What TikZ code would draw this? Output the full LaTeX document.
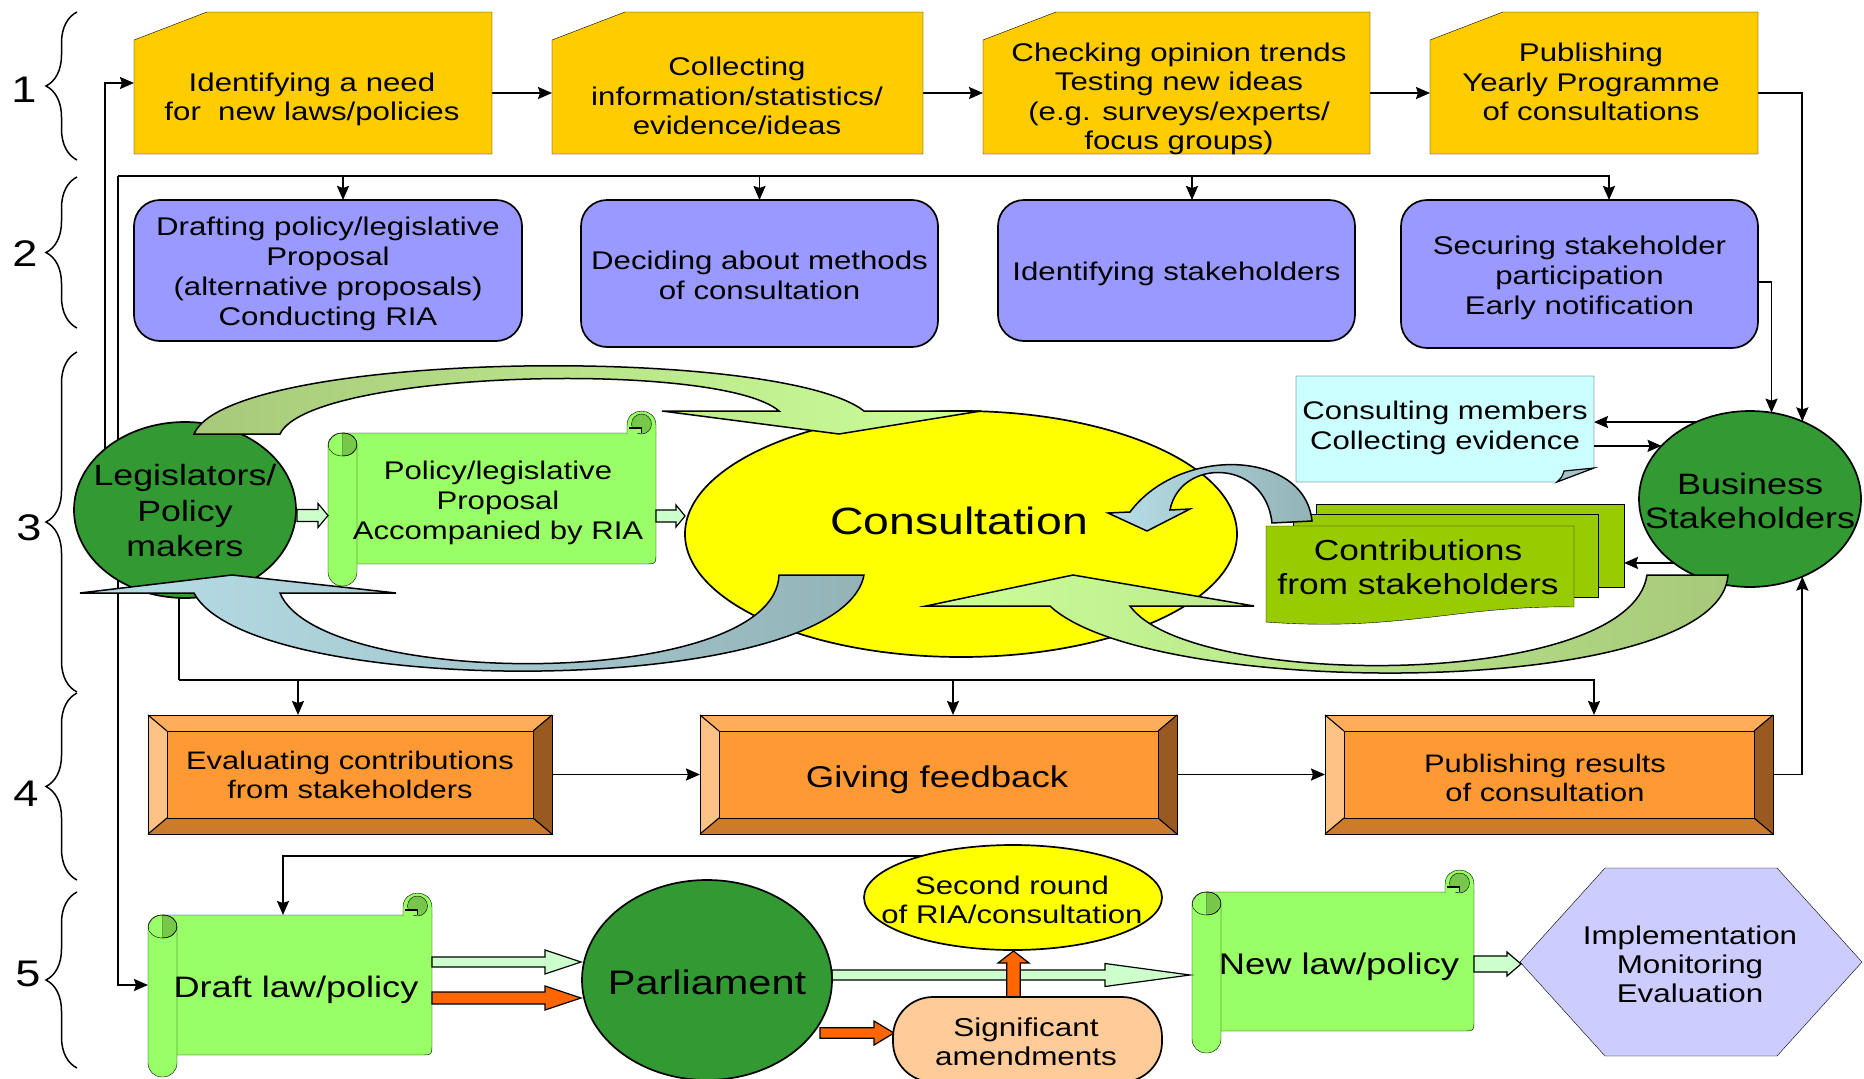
\documentclass[tikz,border=0pt]{standalone}
\usepackage{fontspec}
\setmainfont{Liberation Sans}[FakeStretch=1.22]
\usetikzlibrary{arrows.meta,calc,decorations.pathreplacing,shapes.geometric}

\pgfdeclarelayer{lines}
\pgfdeclarelayer{shapes}
\pgfdeclarelayer{front}
\pgfsetlayers{lines,shapes,main,front}

\definecolor{gold}{HTML}{FFCC00}
\definecolor{lilac}{HTML}{9999FF}
\definecolor{leaf}{HTML}{339933}
\definecolor{sunny}{HTML}{FFFF00}
\definecolor{scrollg}{HTML}{99FF66}
\definecolor{curlg}{HTML}{77C74A}
\definecolor{mint}{HTML}{CCFFCC}
\definecolor{oliveg}{HTML}{A6C97A}
\definecolor{paleg}{HTML}{CCFF99}
\definecolor{tealg}{HTML}{93B3B7}
\definecolor{paleblue}{HTML}{B7DEE8}
\definecolor{notec}{HTML}{CCFFFF}
\definecolor{foldc}{HTML}{A5C3C7}
\definecolor{lime}{HTML}{99CC00}
\definecolor{face}{HTML}{FF9933}
\definecolor{bevtop}{HTML}{FFAD5B}
\definecolor{bevleft}{HTML}{FFC285}
\definecolor{bevbot}{HTML}{CC7A2C}
\definecolor{bevright}{HTML}{995A22}
\definecolor{flame}{HTML}{FF6600}
\definecolor{peach}{HTML}{FFCC99}
\definecolor{hexc}{HTML}{CCCCFF}

\newcommand{\fsz}[2]{\fontsize{#1}{#2}\selectfont}

% yellow card with a clipped top-left corner: x1 y1 x2 y2
\newcommand{\cutcard}[4]{\filldraw[fill=gold] (#1,#2+28) -- (#1+73,#2) -- (#3,#2) -- (#3,#4) -- (#1,#4) -- cycle;}

% bevelled orange button: x1 y1 x2 y2
\newcommand{\bevelbox}[4]{%
  \fill[bevtop] (#1,#2) -- (#3,#2) -- (#3-19,#2+16) -- (#1+19,#2+16) -- cycle;
  \fill[bevbot] (#1,#4) -- (#3,#4) -- (#3-19,#4-16) -- (#1+19,#4-16) -- cycle;
  \fill[bevleft] (#1,#2) -- (#1+19,#2+16) -- (#1+19,#4-16) -- (#1,#4) -- cycle;
  \fill[bevright] (#3,#2) -- (#3-19,#2+16) -- (#3-19,#4-16) -- (#3,#4) -- cycle;
  \filldraw[fill=face] (#1+19,#2+16) rectangle (#3-19,#4-16);
  \draw[line width=1.1pt] (#1,#2) -- (#1+19,#2+16) (#3,#2) -- (#3-19,#2+16)
        (#1,#4) -- (#1+19,#4-16) (#3,#4) -- (#3-19,#4-16);
  \draw (#1,#2) rectangle (#3,#4);}

% horizontal scroll: body left, top, right, bottom
\newcommand{\scrollshape}[4]{%
  \filldraw[fill=scrollg] (#1+14,#2) -- (#3,#2) -- (#3,#4-12) .. controls (#3,#4) .. (#3-12,#4) -- (#1+14,#4) -- cycle;
  \filldraw[fill=scrollg] (#3-29,#2+1) -- (#3-29,#2-7.5) .. controls (#3-29,#2-26.8) and (#3,#2-26.8) .. (#3,#2-7.5) -- (#3,#2+1);
  \filldraw[fill=curlg] (#3-14.5,#2-9) circle[radius=10];
  \fill[scrollg] (#3-27,#2-5) rectangle (#3-14.5,#2);
  \draw[line width=1.2pt] (#3-27,#2-5) -- (#3-14.5,#2-5) -- (#3-14.5,#2);
  \filldraw[fill=scrollg,rounded corners=14pt] (#1,#2) rectangle (#1+29,#4+22);
  \filldraw[fill=curlg] (#1+14.5,#2) .. controls (#1+33.8,#2) and (#1+33.8,#2+23) .. (#1+14.5,#2+23) -- cycle;
  \draw (#1+14.5,#2+11.5) ellipse[x radius=14.5,y radius=11.5];}

% block arrows: from x1 to tip x2 at height yc (shaft half, head half, head length, colour)
\newcommand{\hblock}[7]{\filldraw[fill=#7,line width=1.2pt] (#1,#3-#4) -- (#2-#6,#3-#4) -- (#2-#6,#3-#5) -- (#2,#3) -- (#2-#6,#3+#5) -- (#2-#6,#3+#4) -- (#1,#3+#4) -- cycle;}
% upward block arrow: centre x, base y, tip y, shaft half, head half, head length, colour
\newcommand{\vblock}[7]{\filldraw[fill=#7,line width=1.2pt] (#1-#4,#2) -- (#1-#4,#3+#6) -- (#1-#5,#3+#6) -- (#1,#3) -- (#1+#5,#3+#6) -- (#1+#4,#3+#6) -- (#1+#4,#2) -- cycle;}

\begin{document}
\begin{tikzpicture}[x=1pt,y=-1pt,line width=1.7pt,
  ghost/.style={rectangle,draw=none,fill=none,inner sep=0pt,outer sep=0pt},
  txt/.style={align=center,inner sep=0pt,outer sep=0pt},
  conn/.style={line width=1.9pt,-{Stealth[length=14pt,width=12pt,inset=2pt]}},
  wire/.style={line width=1.9pt},
  lilacbox/.style={rectangle,draw,fill=lilac,rounded corners=26pt,inner sep=0pt,outer sep=0pt},
  disc/.style={ellipse,draw,fill=leaf,inner sep=0pt,outer sep=0pt},
  numeral/.style={inner sep=0pt,font=\fsz{37}{40}},
  curly/.style={decorate,decoration={brace,amplitude=31pt},line width=1.5pt},
  t25/.style={txt,font=\fsz{25.6}{29.5}},
  t25b/.style={txt,font=\fsz{25.6}{30}}]

\useasboundingbox (0,0) rectangle (1864,1079);

% ---------- stage numbers and braces ----------
\node[numeral] (n1) at (24,90) {1};
\node[numeral] (n2) at (25,254) {2};
\node[numeral] (n3) at (29,528) {3};
\node[numeral] (n4) at (26,794) {4};
\node[numeral] (n5) at (28,974) {5};
\draw[curly] (77,160) -- (77,12);
\draw[curly] (77,328) -- (77,177);
\draw[curly] (77,692) -- (77,352);
\draw[curly] (77,880) -- (77,693);
\draw[curly] (77,1068) -- (77,892);

% ---------- stage 1: yellow cards ----------
\node[ghost,minimum width=358,minimum height=142] (b1) at (313,83) {};
\node[ghost,minimum width=371,minimum height=142] (b2) at (737.5,83) {};
\node[ghost,minimum width=387,minimum height=142] (b3) at (1176.5,83) {};
\node[ghost,minimum width=328,minimum height=142] (b4) at (1594,83) {};
\node[t25] (b1t) at (312,99.5) {Identifying a need\\for\ \ new laws/policies};
\node[t25] (b2t) at (737,96) {Collecting\\information/statistics/\\evidence/ideas};
\node[t25] (b3t) at (1179,99) {Checking opinion trends\\Testing new ideas\\(e.g. surveys/experts/\\focus groups)};
\node[t25] (b4t) at (1591,82) {Publishing\\Yearly Programme\\of consultations};

% ---------- stage 2: lilac boxes ----------
\node[lilacbox,minimum width=388,minimum height=141] (ra) at (328,270.5) {};
\node[lilacbox,minimum width=357,minimum height=147] (rb) at (759.5,273.5) {};
\node[lilacbox,minimum width=357,minimum height=141] (rc) at (1176.5,270.5) {};
\node[lilacbox,minimum width=357,minimum height=148] (rd) at (1579.5,274) {};
\node[t25b] (rat) at (328,273.5) {Drafting policy/legislative\\Proposal\\(alternative proposals)\\Conducting RIA};
\node[t25b] (rbt) at (759.5,275) {Deciding about methods\\of consultation};
\node[t25b] (rct) at (1176.5,273.5) {Identifying stakeholders};
\node[t25b] (rdt) at (1579.5,278) {Securing stakeholder\\participation\\Early notification};

% ---------- stage 3: consultation cycle ----------
\node[ellipse,draw,fill=sunny,minimum width=552,minimum height=246,inner sep=0pt,outer sep=0pt] (cons) at (961,534) {};
\node[txt,font=\fsz{38}{42}] (const) at (959,520.5) {Consultation};
\node[disc,minimum width=222,minimum height=176] (leg) at (185,510) {};
\node[txt,font=\fsz{29.3}{35.5}] (legt) at (185,511) {Legislators/\\Policy\\makers};
\node[disc,minimum width=222,minimum height=176] (bus) at (1750,499) {};
\node[txt,font=\fsz{29.5}{34}] (bust) at (1750,500.5) {Business\\Stakeholders};
\node[ghost,minimum width=328,minimum height=131] (pp) at (492,498.5) {};
\node[txt,font=\fsz{25.5}{30}] (ppt) at (498,502.5) {Policy/legislative\\Proposal\\Accompanied by RIA};
\node[ghost,minimum width=298,minimum height=106] (cm) at (1445,429) {};
\node[txt,font=\fsz{25.5}{30}] (cmt) at (1445,427.5) {Consulting members\\Collecting evidence};
\node[ghost,minimum width=358,minimum height=123] (stack) at (1445,565.5) {};
\node[txt,font=\fsz{29}{33.5}] (stackt) at (1418,567) {Contributions\\from stakeholders};

% ---------- stage 4: bevelled buttons ----------
\node[ghost,minimum width=404,minimum height=119] (ev) at (350,774.5) {};
\node[ghost,minimum width=477,minimum height=119] (gf) at (938.5,774.5) {};
\node[ghost,minimum width=448,minimum height=119] (pr) at (1549,774.5) {};
\node[txt,font=\fsz{25.3}{29.5}] (evt) at (350,775) {Evaluating contributions\\from stakeholders};
\node[txt,font=\fsz{30}{34}] (gft) at (937,779.5) {Giving feedback};
\node[txt,font=\fsz{25.3}{29.5}] (prt) at (1545,778) {Publishing results\\of consultation};

% ---------- stage 5: legislative procedure ----------
\node[ghost,minimum width=284,minimum height=140] (draft) at (290,985) {};
\node[txt,font=\fsz{29.6}{34}] (draftt) at (296,989.5) {Draft law/policy};
\node[disc,minimum width=250,minimum height=200] (parl) at (707,980) {};
\node[txt,font=\fsz{34}{38}] (parlt) at (707,982.5) {Parliament};
\node[ellipse,draw,fill=sunny,minimum width=298,minimum height=105,inner sep=0pt,outer sep=0pt] (sr) at (1013,897.5) {};
\node[txt,font=\fsz{25.5}{29}] (srt) at (1012,900) {Second round\\of RIA/consultation};
\node[rectangle,draw,fill=peach,rounded corners=40pt,minimum width=269,minimum height=85,inner sep=0pt,outer sep=0pt] (sig) at (1027.5,1039.5) {};
\node[txt,font=\fsz{25.8}{28.5}] (sigt) at (1026,1042) {Significant\\amendments};
\node[ghost,minimum width=282,minimum height=139] (newlaw) at (1333,961.5) {};
\node[txt,font=\fsz{29.8}{34}] (newlawt) at (1339,967) {New law/policy};
\node[ghost,minimum width=342,minimum height=188] (hex) at (1691,962) {};
\node[txt,font=\fsz{25.7}{29}] (hext) at (1690,964) {Implementation\\Monitoring\\Evaluation};

% ---------- connectors (behind everything) ----------
\begin{pgfonlayer}{lines}
  \draw[conn] (leg.143) |- (b1.west);
  \coordinate (trunk) at (118,176);
  \draw[conn] (trunk) -| ([xshift=15pt]ra.north);
  \draw[conn] (trunk) -| (rb.north);
  \draw[conn] (trunk) -| ([xshift=15.5pt]rc.north);
  \draw[conn] (trunk) -| ([xshift=29.5pt]rd.north);
  \draw[conn] (trunk) |- (draft.west);
  \draw[conn] ([yshift=-10pt]b1.east) -- ([yshift=-10pt]b2.west);
  \draw[conn] ([yshift=-10pt]b2.east) -- ([yshift=-10pt]b3.west);
  \draw[conn] ([yshift=-10pt]b3.east) -- ([yshift=-10pt]b4.west);
  \draw[conn] ([yshift=-10pt]b4.east) -| (bus.56);
  \draw[conn] ([yshift=-8pt]rd.east) -| (bus.76);
  \draw[conn] (bus.125) -- (bus.125 -| cm.east);
  \draw[conn] (bus.149 -| cm.east) -- (bus.149);
  \draw[conn] (bus.220) -- (bus.220 -| stack.east);
  \coordinate (trunk4) at (179,680);
  \draw[wire] (trunk4 |- leg.266) -- (trunk4);
  \draw[conn] (trunk4) -| ([xshift=-52pt]ev.north);
  \draw[conn] (trunk4) -| ([xshift=14.5pt]gf.north);
  \draw[conn] (trunk4) -| ([xshift=45pt]pr.north);
  \draw[conn] (ev.east) -- (gf.west);
  \draw[conn] (gf.east) -- (pr.west);
  \draw[conn] (pr.east) -| (bus.304);
  \draw[conn] (sr.155) -| ([xshift=-7pt]draft.north);
\end{pgfonlayer}

% ---------- drawn shapes ----------
\begin{pgfonlayer}{shapes}
  \cutcard{134}{12}{492}{154}
  \cutcard{552}{12}{923}{154}
  \cutcard{983}{12}{1370}{154}
  \cutcard{1430}{12}{1758}{154}

  \scrollshape{328}{433}{656}{564}
  \scrollshape{148}{915}{432}{1055}
  \scrollshape{1192}{892}{1474}{1031}

  % note with folded corner
  \filldraw[fill=notec] (1296,376) -- (1594,376) -- (1594,468) -- (1557,482) -- (1296,482) -- cycle;
  \filldraw[fill=foldc,line width=1.2pt] (1557,482) .. controls (1562,477) .. (1564,471) -- (1594,468) -- cycle;

  % stacked contribution documents
  \filldraw[fill=lime] (1316,504) rectangle (1624,587);
  \filldraw[fill=lime] (1293,514) rectangle (1598,597);
  \filldraw[fill=lime] (1266,526) -- (1574,526) -- (1574,607) .. controls (1460,605) and (1400,632) .. (1266,622) -- cycle;

  \bevelbox{148}{715}{552}{834}
  \bevelbox{700}{715}{1177}{834}
  \bevelbox{1325}{715}{1773}{834}

  \filldraw[fill=hexc] (1520,962) -- (1605,868) -- (1777,868) -- (1862,962) -- (1777,1056) -- (1605,1056) -- cycle;

  \hblock{297}{328}{515.5}{6}{12}{10}{mint}
  \hblock{656}{685}{516}{6}{11}{9}{mint}
  \hblock{432}{581}{962}{5}{12}{36}{mint}
  \hblock{432}{581}{998}{6}{12}{36}{flame}
  \hblock{832}{1190}{975}{5}{11.5}{85}{mint}
  \hblock{820}{894}{1033}{5.3}{12}{20}{flame}
  \vblock{1013.5}{997}{951}{6.7}{15.5}{12}{flame}
  \hblock{1474}{1521}{964}{8}{12}{14}{mint}
\end{pgfonlayer}

% ---------- curved cycle arrows ----------
\begin{pgfonlayer}{front}
  \draw[line width=1.5pt,left color=oliveg,right color=paleg] (194,434) .. controls (230,350) and (780,345) .. (864,411)
     -- (981,411) -- (839,434) -- (662,411) -- (779,411) .. controls (720,360) and (310,370) .. (280,434) -- cycle;
  \draw[line width=1.5pt,left color=paleblue,right color=tealg] (864,575) .. controls (840,700) and (250,700) .. (194,593)
     -- (80,593) -- (232,575) -- (396,593) -- (280,593) .. controls (320,690) and (775,690) .. (779,575) -- cycle;
  \draw[line width=1.5pt,left color=paleg,right color=oliveg] (1728,575) .. controls (1720,700) and (1150,700) .. (1050,606)
     -- (926,606) -- (1073,575) -- (1254,606) -- (1130,606) .. controls (1190,690) and (1630,690) .. (1647,575) -- cycle;
  \draw[line width=1.5pt,left color=paleblue,right color=tealg] (1312,521) .. controls (1305,450) and (1180,445) .. (1130,512)
     -- (1108,513) -- (1147,531) -- (1190,509) -- (1170,510) .. controls (1180,458) and (1265,458) .. (1272,523) -- cycle;
\end{pgfonlayer}
\end{tikzpicture}
\end{document}
